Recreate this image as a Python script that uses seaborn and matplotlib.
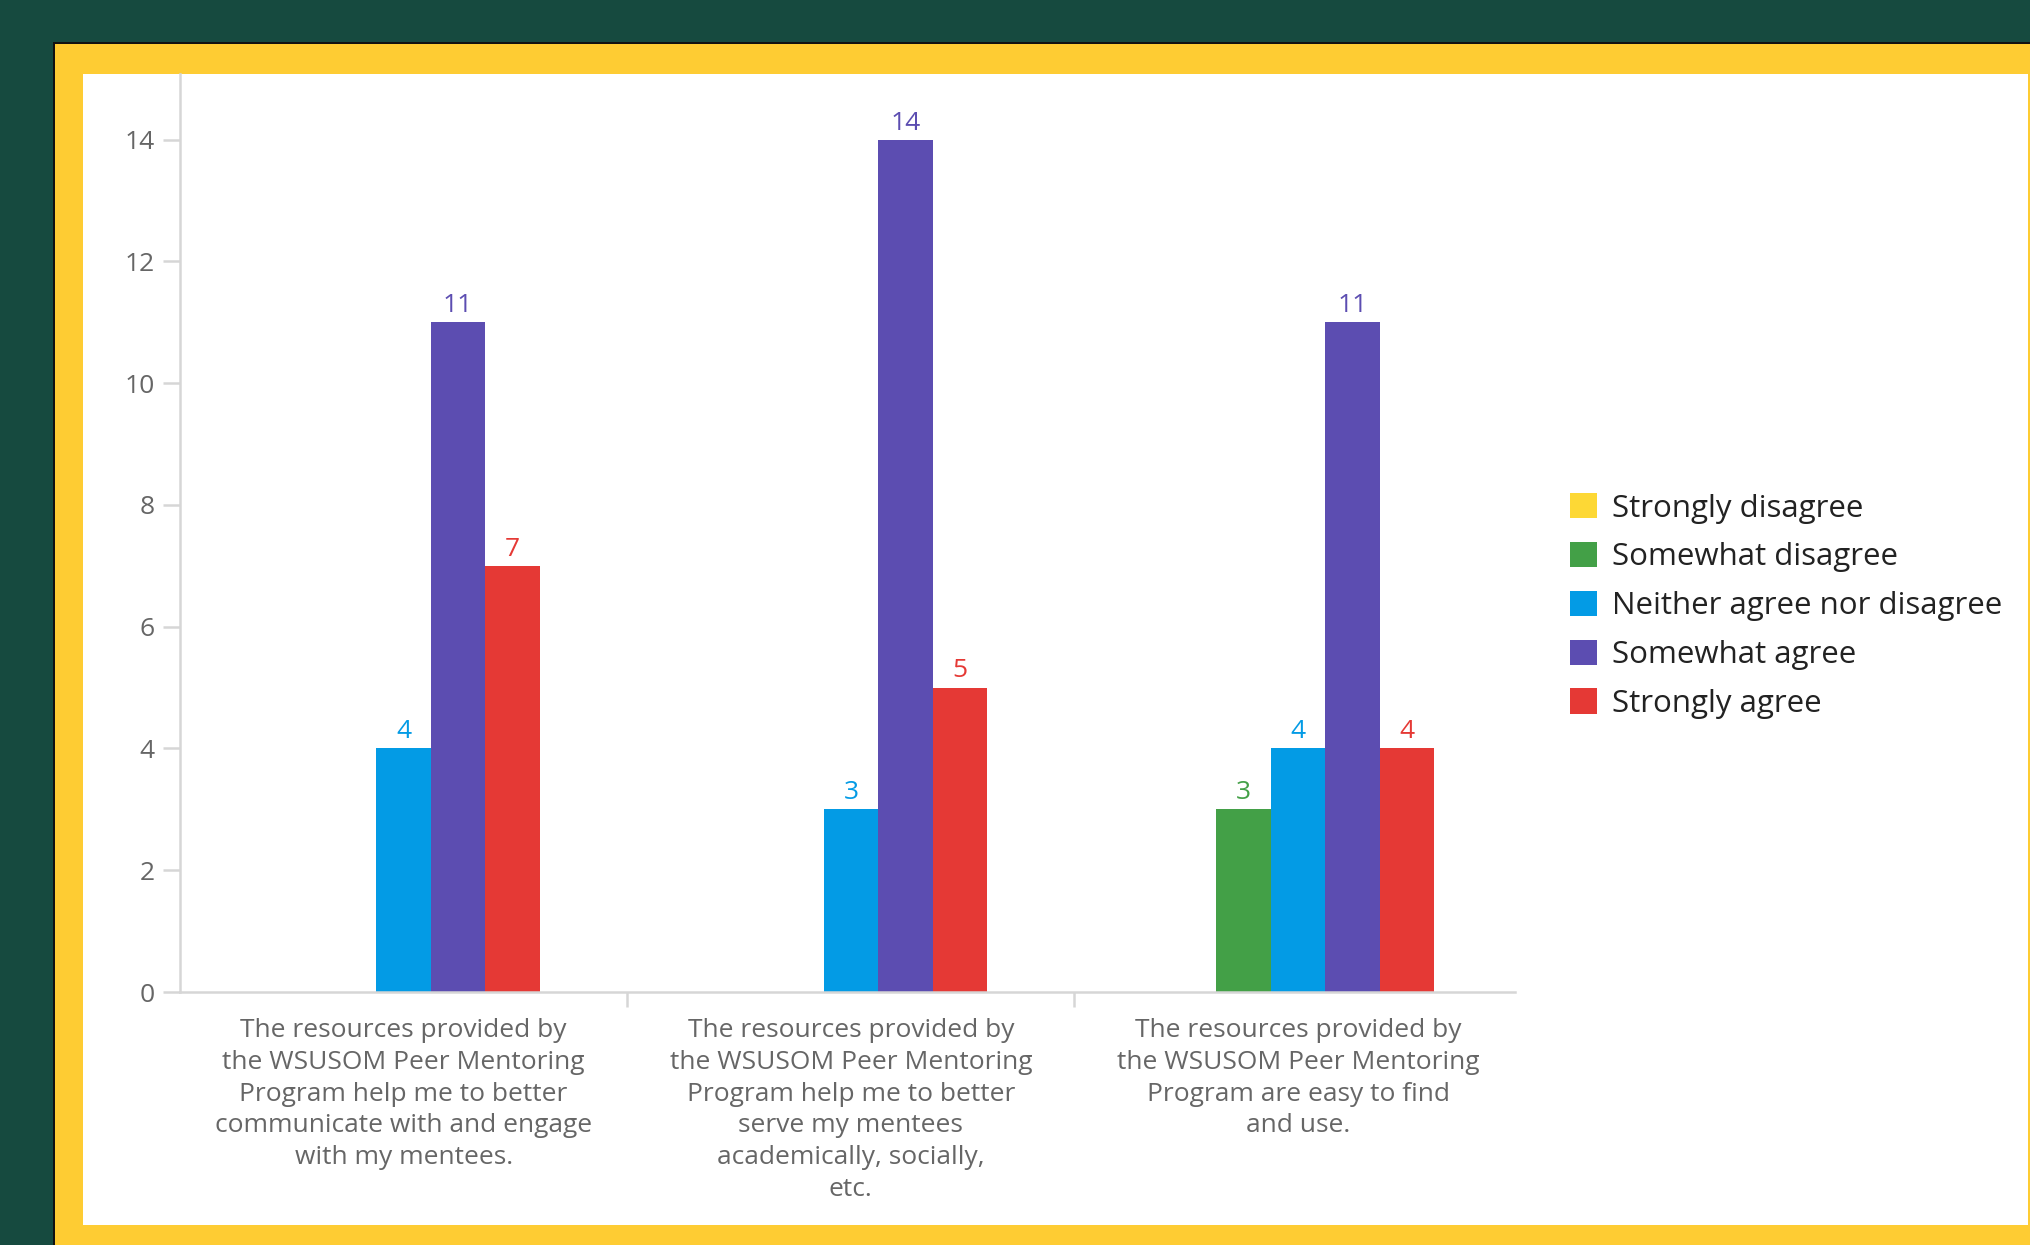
import numpy as np
import pandas as pd
import matplotlib
matplotlib.use("Agg")
import matplotlib.pyplot as plt
from matplotlib.patches import Rectangle
import seaborn as sns

questions = [
    "The resources provided by\nthe WSUSOM Peer Mentoring\nProgram help me to better\ncommunicate with and engage\nwith my mentees.",
    "The resources provided by\nthe WSUSOM Peer Mentoring\nProgram help me to better\nserve my mentees\nacademically, socially,\netc.",
    "The resources provided by\nthe WSUSOM Peer Mentoring\nProgram are easy to find\nand use.",
]
responses = ["Strongly disagree", "Somewhat disagree", "Neither agree nor disagree",
             "Somewhat agree", "Strongly agree"]
strongly_disagree = [0, 0, 0]
somewhat_disagree = [0, 0, 3]
neither = [4, 3, 4]
somewhat_agree = [11, 14, 11]
strongly_agree = [7, 5, 4]
colors = ["#FDD835", "#43A047", "#039BE5", "#5C4DB1", "#E53935"]
yticks = [0, 2, 4, 6, 8, 10, 12, 14]

counts = [strongly_disagree, somewhat_disagree, neither, somewhat_agree, strongly_agree]
rows = []
for r, vals in zip(responses, counts):
    for q, v in zip(questions, vals):
        rows.append({"question": q, "response": r, "count": v})
df = pd.DataFrame(rows)

sns.set_style("white")
plt.rcParams["font.family"] = ["Open Sans", "DejaVu Sans"]

W, H = 2030, 1245
fig = plt.figure(figsize=(W / 100, H / 100), dpi=100)
fig.patch.set_facecolor("#164A3F")

# frame: black line, yellow border, white card
fig.patches.append(Rectangle((53 / W, 0), 1, (H - 42) / H, transform=fig.transFigure,
                             facecolor="#111111", edgecolor="none", zorder=-3))
fig.patches.append(Rectangle((55 / W, 0), 1, (H - 44) / H, transform=fig.transFigure,
                             facecolor="#FECC33", edgecolor="none", zorder=-2))
fig.patches.append(Rectangle((83 / W, (H - 1225) / H), (2028 - 83) / W, (1225 - 74) / H,
                             transform=fig.transFigure, facecolor="white",
                             edgecolor="none", zorder=-1))

ax = fig.add_axes([180 / W, (H - 992) / H, (1515 - 180) / W, (992 - 74) / H])
ax.set_facecolor("none")

sns.barplot(data=df, x="question", y="count", hue="response", order=questions,
            hue_order=responses, palette=dict(zip(responses, colors)),
            width=0.61, gap=0, linewidth=0, saturation=1, errorbar=None, ax=ax)

for cont, col in zip(ax.containers, colors):
    labels = [f"{int(b.get_height())}" if b.get_height() > 0 else "" for b in cont]
    ax.bar_label(cont, labels=labels, color=col, fontsize=19, padding=3)

ax.set_ylim(0, 15.08)
ax.set_xlim(-0.5, 2.485)
ax.set_yticks(yticks)
ax.set_xlabel("")
ax.set_ylabel("")

for s in ["top", "right"]:
    ax.spines[s].set_visible(False)
for s in ["left", "bottom"]:
    ax.spines[s].set_color("#D6D6D6")
    ax.spines[s].set_linewidth(1.8)

ax.tick_params(axis="y", colors="#D6D6D6", labelcolor="#666666", labelsize=19,
               length=12, width=1.8, pad=6, left=True)
ax.tick_params(axis="x", labelcolor="#666666", labelsize=19, length=0, pad=19)
ax.set_xticks([0.5, 1.5], minor=True)
ax.tick_params(axis="x", which="minor", colors="#D6D6D6", length=11, width=1.8,
               bottom=True)
for lbl in ax.get_xticklabels():
    lbl.set_linespacing(1.35)

handles, labels = ax.get_legend_handles_labels()
ax.legend(handles, labels, loc="center left", bbox_to_anchor=(1570 / W, (H - 606) / H),
          bbox_transform=fig.transFigure, frameon=False, fontsize=22.5,
          labelcolor="#222222", handlelength=0.86, handleheight=0.86,
          handletextpad=0.5, labelspacing=0.59, borderpad=0, borderaxespad=0)

fig.savefig("out.png", dpi=100, facecolor=fig.get_facecolor())
